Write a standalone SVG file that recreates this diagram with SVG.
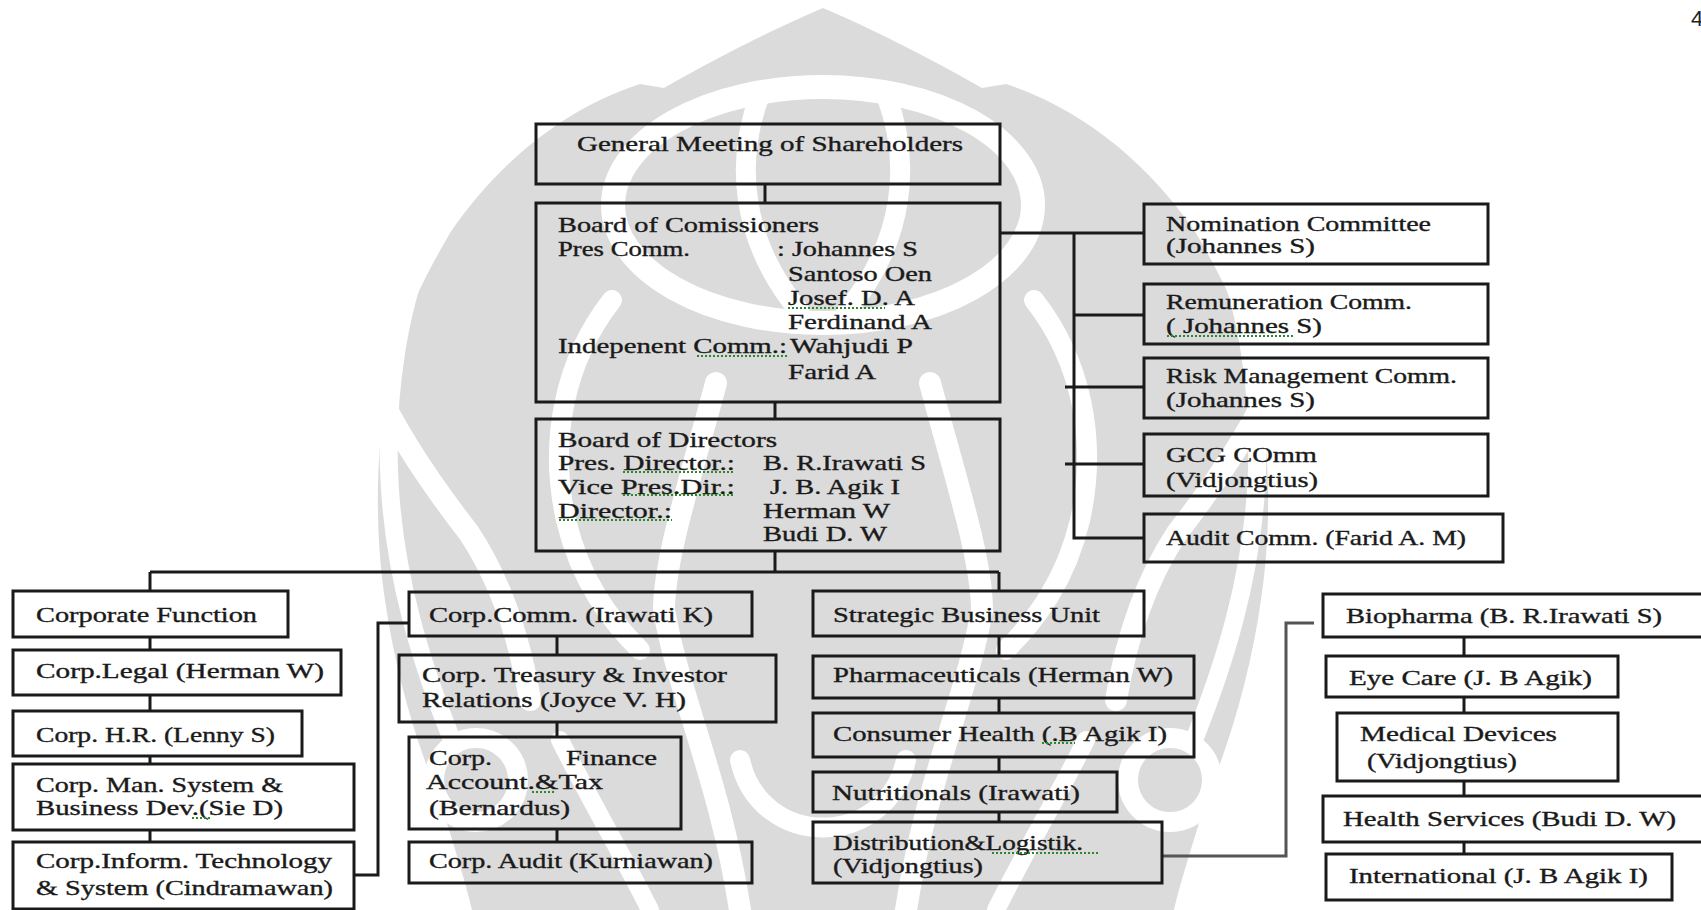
<svg xmlns="http://www.w3.org/2000/svg" width="1701" height="910" viewBox="0 0 1701 910">
<style>
.b{fill:none;stroke:#1a1a1a;stroke-width:3}
.c{fill:none;stroke:#1a1a1a;stroke-width:3}
.cg{fill:none;stroke:#555;stroke-width:3}
.t{font-family:"Liberation Serif","Times New Roman",serif;font-size:21px;fill:#1a1a1a;stroke:#1a1a1a;stroke-width:0.35}
.sq{fill:none;stroke:#2a8a2a;stroke-width:2;stroke-dasharray:2 2}
.wm{fill:#dbdbdb}
.ws{fill:none;stroke:#fff;stroke-linecap:round}
</style>
<defs>
<g id="wmhalf">
<path class="wm" d="M823 8C790 22 730 50 664 88L640 84C560 110 495 167 450 233C420 285 392 340 385 400C375 470 376 540 385 600C395 670 415 740 440 800C455 850 465 880 472 910H823Z"/>
<path class="ws" stroke-width="20" d="M760 95C735 160 740 240 800 312"/>
<path class="ws" stroke-width="18" d="M432 232C398 300 384 400 390 490C396 580 420 660 452 740"/>
<path class="ws" stroke-width="22" d="M365 367C390 420 420 470 469 533C500 580 520 640 530 700"/>
<path class="ws" stroke-width="20" d="M612 300C565 360 548 440 566 520C580 580 610 620 640 650"/>
<path class="ws" stroke-width="22" d="M716 383C690 480 664 560 664 610C680 700 720 780 740 910"/>
<path class="ws" stroke-width="18" d="M560 740C590 800 620 850 650 910"/>
<circle class="ws" stroke-width="20" cx="476" cy="780" r="42"/>
</g>
</defs>
<rect x="0" y="0" width="1701" height="910" fill="#fff"/>
<g id="watermark">
<use href="#wmhalf"/>
<use href="#wmhalf" transform="translate(1646 0) scale(-1 1)"/>
<ellipse class="ws" stroke-width="24" cx="823" cy="205" rx="210" ry="118"/>
<path class="ws" stroke-width="20" d="M740 760C760 850 886 850 906 760"/>
</g>
<text x="1691" y="26" font-family="Liberation Sans, Arial, sans-serif" font-size="22" fill="#222">4</text>

<g id="connectors">
<path class="c" d="M765 184V203"/>
<path class="c" d="M775 402V419"/>
<path class="c" d="M775 551V572M150 572H999M150 572V591M999 572V591"/>
<path class="c" d="M1000 233H1144M1074 233V538H1144M1074 315H1144M1065 387H1144M1065 464H1144"/>
<path class="c" d="M150 637V650M150 695V711M150 756V764M150 830V842"/>
<path class="c" d="M354 875H378V623H409"/>
<path class="c" d="M557 636V655M557 722V737M557 829V842"/>
<path class="c" d="M999 636V656M999 698V713M999 757V772M999 812V822"/>
<path class="cg" d="M1162 856H1286V623H1314"/>
<path class="c" d="M1464 637V656M1464 697V713M1464 781V796M1464 842V854"/>
</g>

<g id="gms">
<rect class="b" x="536" y="124" width="464" height="60"/>
<text class="t" x="577" y="151" textLength="386" lengthAdjust="spacingAndGlyphs">General Meeting of Shareholders</text>
</g>

<g id="boc">
<rect class="b" x="536" y="203" width="464" height="199"/>
<text class="t" x="558" y="232" textLength="261" lengthAdjust="spacingAndGlyphs">Board of Comissioners</text>
<text class="t" x="558" y="256" textLength="132" lengthAdjust="spacingAndGlyphs">Pres Comm.</text>
<text class="t" x="777" y="256" textLength="141" lengthAdjust="spacingAndGlyphs">: Johannes S</text>
<text class="t" x="788" y="281" textLength="144" lengthAdjust="spacingAndGlyphs">Santoso Oen</text>
<text class="t" x="788" y="305" textLength="127" lengthAdjust="spacingAndGlyphs">Josef. D. A</text>
<text class="t" x="788" y="329" textLength="144" lengthAdjust="spacingAndGlyphs">Ferdinand A</text>
<text class="t" x="558" y="353" textLength="229" lengthAdjust="spacingAndGlyphs">Indepenent Comm.:</text>
<text class="t" x="790" y="353" textLength="123" lengthAdjust="spacingAndGlyphs">Wahjudi P</text>
<text class="t" x="788" y="379" textLength="88" lengthAdjust="spacingAndGlyphs">Farid A</text>
<path class="sq" d="M788 308H885M697 356H787"/>
</g>

<g id="bod">
<rect class="b" x="536" y="419" width="464" height="132"/>
<text class="t" x="558" y="447" textLength="219" lengthAdjust="spacingAndGlyphs">Board of Directors</text>
<text class="t" x="558" y="470" textLength="177" lengthAdjust="spacingAndGlyphs">Pres. Director.:</text>
<text class="t" x="763" y="470" textLength="163" lengthAdjust="spacingAndGlyphs">B. R.Irawati S</text>
<text class="t" x="558" y="494" textLength="177" lengthAdjust="spacingAndGlyphs">Vice Pres.Dir.:</text>
<text class="t" x="770" y="494" textLength="130" lengthAdjust="spacingAndGlyphs">J. B. Agik I</text>
<text class="t" x="558" y="518" textLength="114" lengthAdjust="spacingAndGlyphs">Director.:</text>
<text class="t" x="763" y="518" textLength="127" lengthAdjust="spacingAndGlyphs">Herman W</text>
<text class="t" x="763" y="541" textLength="124" lengthAdjust="spacingAndGlyphs">Budi D. W</text>
<path class="sq" d="M623 472H735M623 495H735M559 520H672"/>
</g>

<g id="nomination">
<rect class="b" x="1144" y="204" width="344" height="60"/>
<text class="t" x="1166" y="231" textLength="265" lengthAdjust="spacingAndGlyphs">Nomination Committee</text>
<text class="t" x="1166" y="253" textLength="149" lengthAdjust="spacingAndGlyphs">(Johannes S)</text>
</g>
<g id="remuneration">
<rect class="b" x="1144" y="284" width="344" height="60"/>
<text class="t" x="1166" y="309" textLength="246" lengthAdjust="spacingAndGlyphs">Remuneration Comm.</text>
<text class="t" x="1166" y="333" textLength="156" lengthAdjust="spacingAndGlyphs">( Johannes S)</text>
<path class="sq" d="M1167 336H1293"/>
</g>
<g id="risk">
<rect class="b" x="1144" y="358" width="344" height="60"/>
<text class="t" x="1166" y="383" textLength="291" lengthAdjust="spacingAndGlyphs">Risk Management Comm.</text>
<text class="t" x="1166" y="407" textLength="149" lengthAdjust="spacingAndGlyphs">(Johannes S)</text>
</g>
<g id="gcg">
<rect class="b" x="1144" y="434" width="344" height="62"/>
<text class="t" x="1166" y="462" textLength="151" lengthAdjust="spacingAndGlyphs">GCG COmm</text>
<text class="t" x="1166" y="487" textLength="152" lengthAdjust="spacingAndGlyphs">(Vidjongtius)</text>
</g>
<g id="audit-comm">
<rect class="b" x="1144" y="514" width="359" height="48"/>
<text class="t" x="1166" y="545" textLength="300" lengthAdjust="spacingAndGlyphs">Audit Comm. (Farid A. M)</text>
</g>

<g id="corporate-function">
<rect class="b" x="13" y="591" width="275" height="46"/>
<text class="t" x="36" y="622" textLength="221" lengthAdjust="spacingAndGlyphs">Corporate Function</text>
</g>
<g id="corp-legal">
<rect class="b" x="13" y="650" width="328" height="45"/>
<text class="t" x="36" y="678" textLength="288" lengthAdjust="spacingAndGlyphs">Corp.Legal (Herman W)</text>
</g>
<g id="corp-hr">
<rect class="b" x="13" y="711" width="289" height="45"/>
<text class="t" x="36" y="742" textLength="239" lengthAdjust="spacingAndGlyphs">Corp. H.R. (Lenny S)</text>
</g>
<g id="corp-man">
<rect class="b" x="13" y="764" width="341" height="66"/>
<text class="t" x="36" y="792" textLength="247" lengthAdjust="spacingAndGlyphs">Corp. Man. System &amp;</text>
<text class="t" x="36" y="815" textLength="247" lengthAdjust="spacingAndGlyphs">Business Dev.(Sie D)</text>
<path class="sq" d="M192 818H212"/>
</g>
<g id="corp-it">
<rect class="b" x="13" y="842" width="341" height="67"/>
<text class="t" x="36" y="868" textLength="296" lengthAdjust="spacingAndGlyphs">Corp.Inform. Technology</text>
<text class="t" x="36" y="895" textLength="297" lengthAdjust="spacingAndGlyphs">&amp; System (Cindramawan)</text>
</g>

<g id="corp-comm">
<rect class="b" x="409" y="592" width="343" height="44"/>
<text class="t" x="429" y="622" textLength="284" lengthAdjust="spacingAndGlyphs">Corp.Comm. (Irawati K)</text>
</g>
<g id="corp-treasury">
<rect class="b" x="399" y="655" width="377" height="67"/>
<text class="t" x="422" y="682" textLength="305" lengthAdjust="spacingAndGlyphs">Corp. Treasury &amp; Investor</text>
<text class="t" x="422" y="707" textLength="264" lengthAdjust="spacingAndGlyphs">Relations (Joyce V. H)</text>
</g>
<g id="corp-finance">
<rect class="b" x="409" y="737" width="272" height="92"/>
<text class="t" x="429" y="765" textLength="63" lengthAdjust="spacingAndGlyphs">Corp.</text>
<text class="t" x="566" y="765" textLength="91" lengthAdjust="spacingAndGlyphs">Finance</text>
<text class="t" x="426" y="789" textLength="177" lengthAdjust="spacingAndGlyphs">Account.&amp;Tax</text>
<text class="t" x="429" y="815" textLength="141" lengthAdjust="spacingAndGlyphs">(Bernardus)</text>
<path class="sq" d="M532 792H555"/>
</g>
<g id="corp-audit">
<rect class="b" x="409" y="842" width="343" height="41"/>
<text class="t" x="429" y="868" textLength="284" lengthAdjust="spacingAndGlyphs">Corp. Audit (Kurniawan)</text>
</g>

<g id="sbu">
<rect class="b" x="813" y="591" width="331" height="45"/>
<text class="t" x="833" y="622" textLength="267" lengthAdjust="spacingAndGlyphs">Strategic Business Unit</text>
</g>
<g id="pharmaceuticals">
<rect class="b" x="813" y="656" width="381" height="42"/>
<text class="t" x="833" y="682" textLength="340" lengthAdjust="spacingAndGlyphs">Pharmaceuticals (Herman W)</text>
</g>
<g id="consumer-health">
<rect class="b" x="813" y="713" width="381" height="44"/>
<text class="t" x="833" y="741" textLength="334" lengthAdjust="spacingAndGlyphs">Consumer Health (.B Agik I)</text>
<path class="sq" d="M1042 743H1075"/>
</g>
<g id="nutritionals">
<rect class="b" x="813" y="772" width="304" height="40"/>
<text class="t" x="832" y="800" textLength="248" lengthAdjust="spacingAndGlyphs">Nutritionals (Irawati)</text>
</g>
<g id="distribution">
<rect class="b" x="813" y="822" width="349" height="61"/>
<text class="t" x="833" y="850" textLength="250" lengthAdjust="spacingAndGlyphs">Distribution&amp;Logistik.</text>
<text class="t" x="833" y="873" textLength="150" lengthAdjust="spacingAndGlyphs">(Vidjongtius)</text>
<path class="sq" d="M992 853H1098"/>
</g>

<g id="biopharma">
<rect class="b" x="1323" y="594" width="385" height="43"/>
<text class="t" x="1346" y="623" textLength="316" lengthAdjust="spacingAndGlyphs">Biopharma (B. R.Irawati S)</text>
</g>
<g id="eye-care">
<rect class="b" x="1326" y="656" width="292" height="41"/>
<text class="t" x="1349" y="685" textLength="243" lengthAdjust="spacingAndGlyphs">Eye Care (J. B Agik)</text>
</g>
<g id="medical-devices">
<rect class="b" x="1337" y="713" width="281" height="68"/>
<text class="t" x="1360" y="741" textLength="197" lengthAdjust="spacingAndGlyphs">Medical Devices</text>
<text class="t" x="1367" y="768" textLength="150" lengthAdjust="spacingAndGlyphs">(Vidjongtius)</text>
</g>
<g id="health-services">
<rect class="b" x="1323" y="796" width="385" height="46"/>
<text class="t" x="1343" y="826" textLength="333" lengthAdjust="spacingAndGlyphs">Health Services (Budi D. W)</text>
</g>
<g id="international">
<rect class="b" x="1326" y="854" width="346" height="46"/>
<text class="t" x="1349" y="883" textLength="299" lengthAdjust="spacingAndGlyphs">International (J. B Agik I)</text>
</g>
</svg>
